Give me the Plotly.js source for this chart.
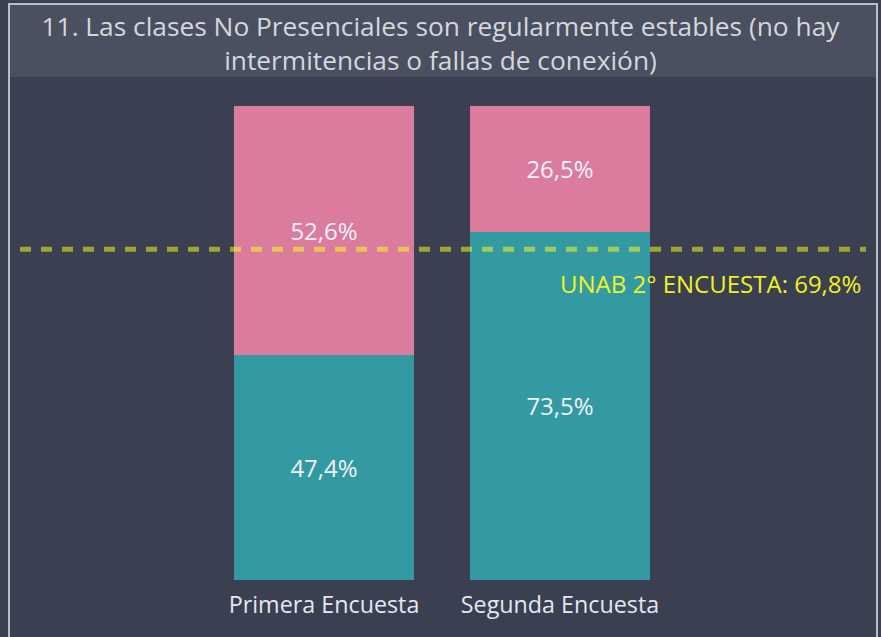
<!DOCTYPE html>
<html>
<head>
<meta charset="utf-8">
<script src="https://cdn.plot.ly/plotly-3.0.1.min.js"></script>
<style>html,body{margin:0;padding:0;background:#3a3f51;}#chart{width:881px;height:637px;}</style>
</head>
<body>
<div id="chart"></div>
<script>
const categories = ['Primera Encuesta', 'Segunda Encuesta'];
const seriesSi = [47.4, 73.5];
const seriesNo = [52.6, 26.5];
const benchmarkValue = 69.8;
const benchmarkLabel = 'UNAB 2° ENCUESTA';
const titleText = '11. Las clases No Presenciales son regularmente estables (no hay<br>intermitencias o fallas de conexión)';

const fmt = v => v.toFixed(1).replace('.', ',');

const W = 881, H = 637;
const px = x => x / W;                 // paper x from pixel
const py = y => (580 - y) / 580;       // paper y from pixel (plot bottom at 580)

const barCommon = {
  type: 'bar',
  x: categories,
  width: 0.763,
  textposition: 'inside',
  insidetextanchor: 'middle',
  textangle: 0,
  constraintext: 'none',
  textfont: {family: 'Open Sans, sans-serif', size: 24, color: '#f0f2f6'},
  hoverinfo: 'skip'
};

const data = [
  Object.assign({}, barCommon, {
    name: 'Sí', y: seriesSi, text: seriesSi.map(v => fmt(v) + '%'),
    marker: {color: '#339aa4'}
  }),
  Object.assign({}, barCommon, {
    name: 'No', y: seriesNo, text: seriesNo.map(v => fmt(v) + '%'),
    marker: {color: '#db7c9f'}
  })
];

const layout = {
  width: W, height: H,
  margin: {l: 0, r: 0, t: 0, b: 57, pad: 0},
  paper_bgcolor: '#3a3f51',
  plot_bgcolor: 'rgba(0,0,0,0)',
  barmode: 'stack',
  showlegend: false,
  separators: ',.',
  title: {
    text: titleText,
    x: 0.5, xref: 'paper', xanchor: 'center',
    y: 1 - 36 / H, yref: 'container', yanchor: 'middle',
    font: {family: 'Open Sans, sans-serif', size: 26.3, color: '#d4d7dd'}
  },
  xaxis: {
    range: [-1.3729, 2.3602],
    showgrid: false, zeroline: false, showline: false,
    ticks: '', fixedrange: true, ticklabelstandoff: 9,
    tickfont: {family: 'Open Sans, sans-serif', size: 23.3, color: '#e3e8ef'}
  },
  yaxis: {
    range: [0, 122.363],
    showgrid: false, zeroline: false, showline: false,
    showticklabels: false, ticks: '', fixedrange: true
  },
  shapes: [
    {type: 'rect', xref: 'paper', yref: 'paper', x0: px(9), x1: px(877), y0: py(4), y1: py(77),
     fillcolor: '#4a5060', line: {width: 0}, layer: 'below'},
    {type: 'rect', xref: 'paper', yref: 'paper', x0: px(9), x1: px(877), y0: py(4), y1: py(640),
     fillcolor: 'rgba(0,0,0,0)', line: {color: '#b9bdc6', width: 2}, layer: 'above'},
    {type: 'line', xref: 'paper', yref: 'y', x0: px(20), x1: px(866), y0: benchmarkValue, y1: benchmarkValue,
     line: {color: 'rgba(242,250,30,0.55)', width: 5, dash: '11px,10px'}, layer: 'above'}
  ],
  annotations: [
    {xref: 'paper', yref: 'y', x: px(863), y: benchmarkValue, yshift: -34,
     xanchor: 'right', yanchor: 'middle', showarrow: false,
     text: benchmarkLabel + ': ' + fmt(benchmarkValue) + '%',
     font: {family: 'Open Sans, sans-serif', size: 24, color: '#f2f21e'}}
  ]
};

Plotly.newPlot('chart', data, layout, {displayModeBar: false, staticPlot: true});
</script>
</body>
</html>
